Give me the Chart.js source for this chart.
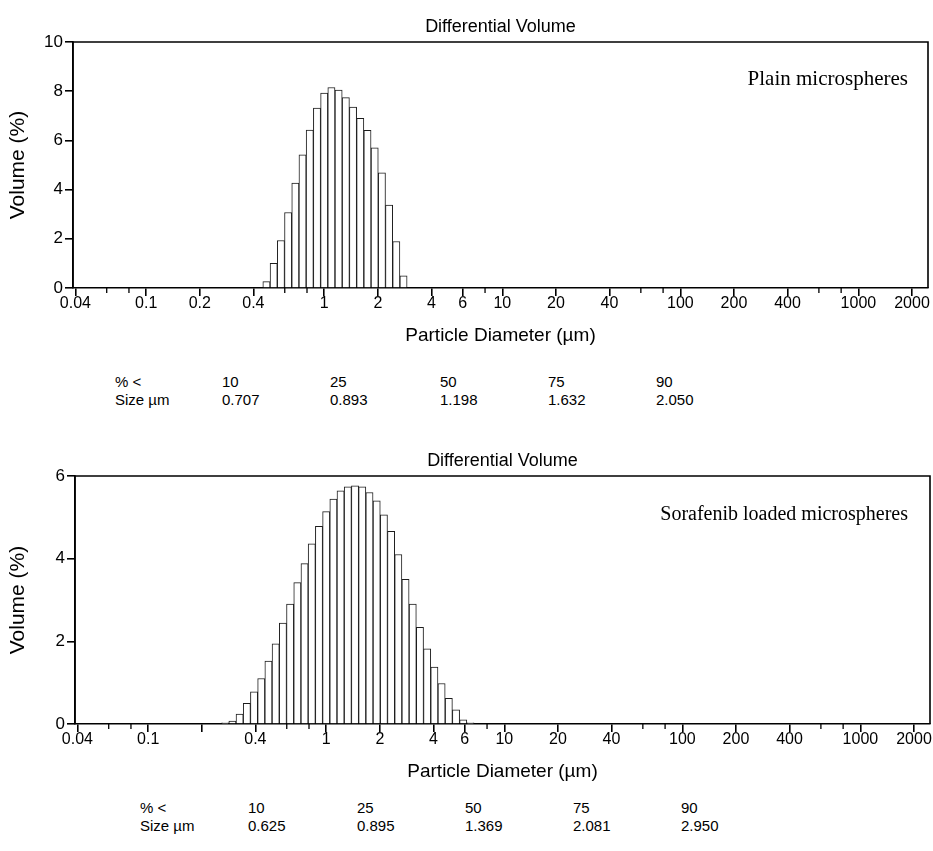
<!DOCTYPE html>
<html>
<head>
<meta charset="utf-8">
<script src="https://cdn.jsdelivr.net/npm/chart.js@4.4.1/dist/chart.umd.min.js"></script>
<style>
html,body{margin:0;padding:0;background:#fff;}
body{width:933px;height:851px;position:relative;overflow:hidden;font-family:"Liberation Sans",Arial,sans-serif;color:#000;}
canvas{position:absolute;left:0;}
.note{position:absolute;font-family:"Liberation Serif","Times New Roman",serif;line-height:24px;white-space:nowrap;}
.cell{position:absolute;font-size:15px;line-height:18px;white-space:nowrap;}
</style>
</head>
<body>
<canvas id="c1" width="933" height="360" style="top:0px"></canvas>
<canvas id="c2" width="933" height="360" style="top:434px"></canvas>
<div class="note" style="right:25px;top:66px;font-size:21px;">Plain microspheres</div>
<div class="note" style="right:25px;top:501px;font-size:20px;">Sorafenib loaded microspheres</div>
<div id="tables"></div>
<script>
// ---- Data ----
// Coulter LS channel lower / upper edges (µm)
const channelLower = [0.258, 0.284, 0.311, 0.342, 0.375, 0.412, 0.452, 0.496, 0.545, 0.598,
  0.657, 0.721, 0.791, 0.869, 0.954, 1.047, 1.149, 1.261, 1.385, 1.520,
  1.669, 1.832, 2.011, 2.208, 2.423, 2.660, 2.920, 3.206, 3.519, 3.863,
  4.241, 4.656, 5.111, 5.611, 6.159, 6.761];
const channelUpper = [0.284, 0.311, 0.342, 0.375, 0.412, 0.452, 0.496, 0.545, 0.598, 0.657,
  0.721, 0.791, 0.869, 0.954, 1.047, 1.149, 1.261, 1.385, 1.520, 1.669,
  1.832, 2.011, 2.208, 2.423, 2.660, 2.920, 3.206, 3.519, 3.863, 4.241,
  4.656, 5.111, 5.611, 6.159, 6.761, 7.421];

// Differential volume (%) per channel
const plainVolume = [0, 0, 0, 0, 0, 0, 0.26, 1.00, 1.93, 3.07,
  4.26, 5.41, 6.42, 7.31, 7.92, 8.15, 8.05, 7.74, 7.35, 6.90,
  6.41, 5.70, 4.68, 3.37, 1.89, 0.49, 0, 0, 0, 0,
  0, 0, 0, 0, 0, 0];
const sorafenibVolume = [0.03, 0.07, 0.24, 0.50, 0.78, 1.10, 1.52, 1.94, 2.44, 2.90,
  3.42, 3.88, 4.36, 4.78, 5.14, 5.44, 5.64, 5.74, 5.76, 5.74,
  5.60, 5.40, 5.06, 4.66, 4.10, 3.50, 2.90, 2.34, 1.82, 1.38,
  0.98, 0.62, 0.34, 0.10, 0.03, 0];

// Axis ticks
const xTickValues = [0.04, 0.1, 0.2, 0.4, 1, 2, 4, 6, 10, 20, 40, 100, 200, 400, 1000, 2000];
const plainTickLabels = ['0.04', '0.1', '0.2', '0.4', '1', '2', '4', '6', '10', '20', '40', '100', '200', '400', '1000', '2000'];
const sorafenibTickLabels = ['0.04', '0.1', '', '0.4', '1', '2', '4', '6', '10', '20', '40', '100', '200', '400', '1000', '2000'];
const xMinorTicks = [0.06, 0.08, 0.6, 0.8, 8, 60, 80, 600, 800];
const plainYMax = 10;
const sorafenibYMax = 6;

// Percentile tables
const percentLevels = ['10', '25', '50', '75', '90'];
const plainSizes = ['0.707', '0.893', '1.198', '1.632', '2.050'];
const sorafenibSizes = ['0.625', '0.895', '1.369', '2.081', '2.950'];

// ---- Drawing ----
Chart.defaults.font.family = '"Liberation Sans", Arial, sans-serif';
Chart.defaults.color = '#000';

const X_MIN = 0.0388, X_MAX = 2460;

function buildBars(values) {
  const pts = [];
  for (let i = 0; i < values.length; i++) {
    if (values[i] > 0) pts.push({x: Math.sqrt(channelLower[i] * channelUpper[i]), y: values[i]});
  }
  return pts;
}

const framePlugin = {
  id: 'frame',
  afterDraw(chart) {
    const {ctx, chartArea: a} = chart;
    ctx.save();
    ctx.strokeStyle = '#000';
    ctx.lineWidth = 1.6;
    ctx.beginPath();
    ctx.moveTo(a.left, a.bottom);
    ctx.lineTo(a.left, a.top);
    ctx.lineTo(a.right, a.top);
    ctx.lineTo(a.right, a.bottom);
    ctx.stroke();
    // minor ticks
    const xs = chart.scales.x;
    ctx.lineWidth = 1.3;
    ctx.beginPath();
    xMinorTicks.forEach(v => {
      const px = xs.getPixelForValue(v);
      ctx.moveTo(px, a.bottom);
      ctx.lineTo(px, a.bottom + 5);
    });
    ctx.stroke();
    ctx.restore();
  }
};

function makeChart(id, values, yMax, labels, P) {
  return new Chart(document.getElementById(id), {
    type: 'bar',
    data: {
      datasets: [{
        data: buildBars(values),
        backgroundColor: '#ffffff',
        borderColor: '#1c1c1c',
        borderWidth: 1,
        borderSkipped: 'start',
        barPercentage: 1,
        categoryPercentage: 1,
        barThickness: 'flex'
      }]
    },
    options: {
      responsive: false,
      animation: false,
      devicePixelRatio: 1,
      layout: {padding: {left: 0, right: P.right, top: 0, bottom: 0}},
      plugins: {
        legend: {display: false},
        tooltip: {enabled: false},
        title: {
          display: true, fullSize: false, text: 'Differential Volume', color: '#000',
          font: {size: 18, weight: 'normal'},
          padding: {top: 16.2, bottom: 4.2}
        }
      },
      scales: {
        x: {
          type: 'logarithmic', min: X_MIN, max: X_MAX, offset: false,
          afterBuildTicks: s => { s.ticks = xTickValues.map(v => ({value: v})); },
          afterFit: s => { s.height = P.xHeight; },
          ticks: {autoSkip: false, maxRotation: 0, minRotation: 0, padding: -2, color: '#000',
                  font: {size: 16}, callback: (v, i) => labels[i]},
          grid: {display: true, drawOnChartArea: false, drawTicks: true, tickLength: 8, offset: false,
                 color: '#000', lineWidth: 1.6},
          border: {display: true, color: '#000', width: 1.6},
          title: {display: true, text: 'Particle Diameter (µm)', color: '#000', font: {size: 19},
                  padding: {top: 0, bottom: P.xTitlePad}}
        },
        y: {
          min: 0, max: yMax,
          afterFit: s => { s.width = P.yWidth; },
          ticks: {stepSize: 2, padding: 2, color: '#000', font: {size: 17}},
          grid: {drawOnChartArea: false, drawTicks: true, tickLength: 8, color: '#000', lineWidth: 1.6},
          border: {display: true, color: '#000', width: 1.6},
          title: {display: true, text: 'Volume (%)', color: '#000', font: {size: 21},
                  padding: {top: 5.4, bottom: 0}}
        }
      }
    },
    plugins: [framePlugin]
  });
}

makeChart('c1', plainVolume, plainYMax, plainTickLabels, {right: 5, yWidth: 73, xHeight: 72, xTitlePad: 12.6});
makeChart('c2', sorafenibVolume, sorafenibYMax, sorafenibTickLabels, {right: 3, yWidth: 75, xHeight: 70, xTitlePad: 10.6});

function buildTable(sizes, labelX, colX, rowY) {
  const host = document.getElementById('tables');
  const add = (txt, x, y) => {
    const d = document.createElement('div');
    d.className = 'cell';
    d.style.left = x + 'px';
    d.style.top = y + 'px';
    d.textContent = txt;
    host.appendChild(d);
  };
  add('% <', labelX, rowY[0]);
  add('Size µm', labelX, rowY[1]);
  percentLevels.forEach((p, i) => add(p, colX[i], rowY[0]));
  sizes.forEach((s, i) => add(s, colX[i], rowY[1]));
}
buildTable(plainSizes, 115, [222, 330, 440, 548, 656], [373, 391]);
buildTable(sorafenibSizes, 140, [248, 357, 465, 573, 681], [799, 817]);
</script>
</body>
</html>
